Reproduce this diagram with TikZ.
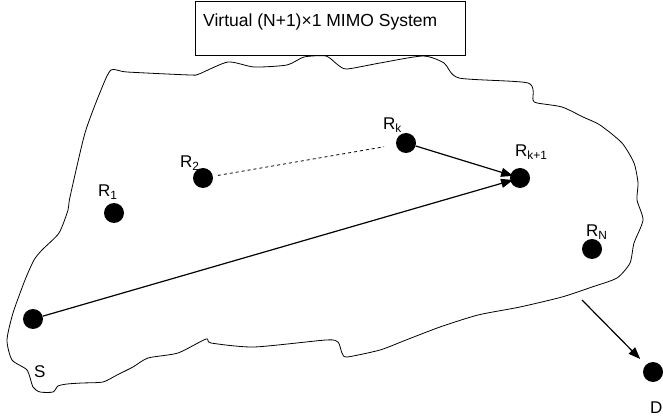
\documentclass[tikz,border=0pt]{standalone}
\usepackage{fontspec}
\setmainfont{Liberation Sans}
\usetikzlibrary{arrows.meta}
\begin{document}
\begin{tikzpicture}[x=1pt,y=-1pt,
  dot/.style={circle,fill=black,inner sep=0pt,minimum size=20pt},
  lbl/.style={anchor=base west,inner sep=0pt,font=\fontsize{17}{20}\selectfont},
  link/.style={line width=1.2pt,-{Triangle[length=12pt,width=9pt]}},
  blob/.style={line width=0.8pt}]
\useasboundingbox (0,0) rectangle (663,419);
% title box
\node[draw,line width=0.8pt,minimum width=270pt,minimum height=54pt,anchor=north west,inner sep=0pt] (title) at (195,1) {};
\node[lbl,font=\fontsize{17.5}{20}\selectfont] (ttext) at (203,27) {Virtual (N+1)×1 MIMO System};
% blob outline
\draw[blob] plot[smooth cycle,tension=0.4] coordinates {
 (111,70) (127,72) (190,75) (199,74) (228,62) (254,67) (287,65) (304,57) (326,56)
 (338,65) (347,69) (380,63) (423,56) (444,63) (459,78) (528,83) (533,100) (537,103)
 (562,107) (583,117) (600,125) (622,143) (634,163) (638,183) (637,200) (643,220)
 (634,243) (630,263) (617,278) (592,287) (562,297) (520,307) (478,315) (440,327)
 (406,340) (380,350) (347,357) (342,353) (338,342) (326,340) (254,347) (211,343)
 (206,339) (178,353) (148,358) (133,367) (117,375) (103,382) (82,383) (67,384)
 (58,386) (53,392) (40,392) (33,387) (27,370) (12,360) (7,340) (13,313) (25,280)
 (34,260) (42,250) (59,233) (68,210) (70,197) (85,133) (101,90)};
% nodes
\node[dot] (S) at (33,319) {};
\node[dot] (R1) at (114,213) {};
\node[dot] (R2) at (203,178) {};
\node[dot] (Rk) at (406,143) {};
\node[dot] (Rk1) at (520,178) {};
\node[dot] (RN) at (592,249) {};
\node[dot] (D) at (653,372) {};
\coordinate (Dstart) at (582,300);
% labels
\node[lbl] (lS) at (34,377) {S};
\node[lbl] (lR1) at (98,197) {R\textsubscript{1}};
\node[lbl] (lR2) at (180,168) {R\textsubscript{2}};
\node[lbl] (lRk) at (383,130) {R\textsubscript{k}};
\node[lbl] (lRk1) at (515,157) {R\textsubscript{k+1}};
\node[lbl] (lRN) at (586,237) {R\textsubscript{N}};
\node[lbl] (lD) at (650,413) {D};
% connectors
\draw[link,shorten >=-3pt] (S) -- (Rk1);
\draw[link,shorten >=-3pt] (Rk) -- (Rk1);
\draw[line width=0.8pt,dashed,shorten <=5pt,shorten >=12pt] (R2) -- (Rk);
\draw[link,shorten >=8pt] (Dstart) -- (D);
\end{tikzpicture}
\end{document}
